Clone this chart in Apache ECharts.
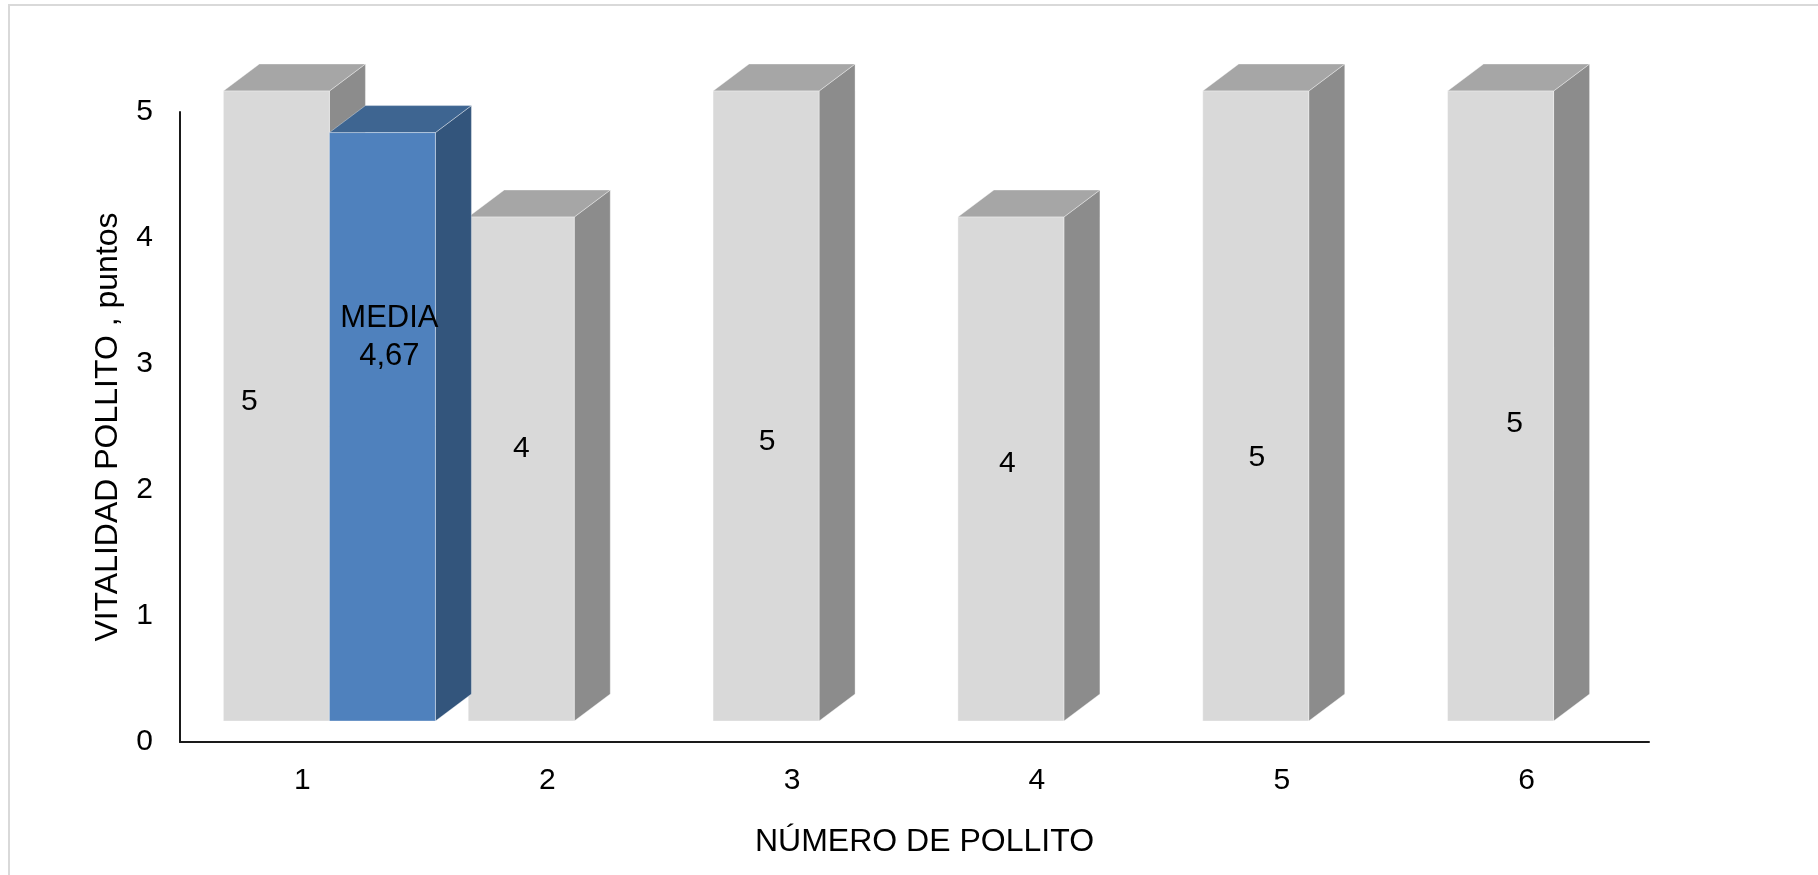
<!DOCTYPE html>
<html>
<head>
<meta charset="utf-8">
<title>Vitalidad del pollito</title>
<script src="https://cdn.jsdelivr.net/npm/echarts@6/dist/echarts.min.js"></script>
<style>
  html, body { margin: 0; padding: 0; background: #ffffff; }
  #chart { width: 1818px; height: 875px; }
</style>
</head>
<body>
<div id="chart"></div>
<script>
// Chick numbers on the x axis
const categories = ['1', '2', '3', '4', '5', '6'];
// Vitality score of each chick (points)
const vitalidad = [5, 4, 5, 4, 5, 5];
// Mean vitality, shown once next to the first chick
const media = [4.67, null, null, null, null, null];
const mediaName = 'MEDIA';
// Value axis range
const yMin = 0, yMax = 5, yStep = 1;

// Box drawing: face colours and the fake depth of each column
const FONT = "'Liberation Sans', Arial, sans-serif";
const DEPTH_X = 36, DEPTH_Y = 27, LIFT = 21;
const FACES = {
  gray: { front: '#d9d9d9', side: '#8c8c8c', top: '#a6a6a6' },
  blue: { front: '#4f81bd', side: '#33557c', top: '#3e6591' }
};
// Column slot within a category band (fractions of the band)
const SLOT_W = 0.433;
const SLOT_LEFT = { gray: -0.3227, blue: 0.1103 };
// Where each value label sits: [horizontal nudge px, height on the column in axis units]
const grayLabelSpot = [[-27, 2.535], [0, 2.158], [1, 2.213], [-3.5, 2.038], [1, 2.093], [14, 2.36]];
const blueLabelSpot = [[7, 3.045]];

function fmt(v) { return String(v).replace('.', ','); }

function boxRenderer(faces, slotLeft, spots, labelText, labelSize) {
  return function (params, api) {
    const cat = api.value(0);
    const val = api.value(1);
    const band = api.size([1, 0])[0];
    const c0 = api.coord([cat, 0]);
    const cTop = api.coord([cat, val]);
    const x0 = c0[0] + slotLeft * band;
    const w = SLOT_W * band;
    const yb = c0[1] - LIFT;
    const yt = cTop[1] - LIFT;
    const x1 = x0 + w;
    const edge = 'rgba(255,255,255,0.35)';
    const spot = spots[params.dataIndex] || [0, val / 2];
    const ly = api.coord([cat, spot[1]])[1] - LIFT;
    return {
      type: 'group',
      children: [
        { type: 'polygon', shape: { points: [[x1, yt], [x1 + DEPTH_X, yt - DEPTH_Y], [x1 + DEPTH_X, yb - DEPTH_Y], [x1, yb]] },
          style: { fill: faces.side, stroke: edge, lineWidth: 1 } },
        { type: 'polygon', shape: { points: [[x0, yt], [x0 + DEPTH_X, yt - DEPTH_Y], [x1 + DEPTH_X, yt - DEPTH_Y], [x1, yt]] },
          style: { fill: faces.top, stroke: edge, lineWidth: 1 } },
        { type: 'rect', shape: { x: x0, y: yt, width: w, height: yb - yt },
          style: { fill: faces.front, stroke: edge, lineWidth: 1 } },
        { type: 'text',
          style: { text: labelText(val), x: (x0 + x1) / 2 + spot[0], y: ly,
                   align: 'center', verticalAlign: 'middle', lineHeight: 38,
                   fontSize: labelSize, fontFamily: FONT, fill: '#000000' } }
      ]
    };
  };
}

const chart = echarts.init(document.getElementById('chart'), null, { renderer: 'canvas' });

chart.setOption({
  backgroundColor: '#ffffff',
  animation: false,
  graphic: [{
    type: 'rect', z: -10, silent: true,
    shape: { x: 9, y: 5, width: 1840, height: 900 },
    style: { fill: 'none', stroke: '#d9d9d9', lineWidth: 2 }
  }],
  grid: { left: 180, right: 169, top: 112, bottom: 133 },
  xAxis: {
    type: 'category',
    data: categories,
    name: 'NÚMERO DE POLLITO',
    nameLocation: 'middle',
    nameGap: 84,
    nameTextStyle: { fontSize: 32, fontFamily: FONT, color: '#000000', padding: [0, 0, 0, 20] },
    axisLine: { show: true, lineStyle: { color: '#1a1a1a', width: 2 } },
    axisTick: { show: false },
    axisLabel: { fontSize: 30, fontFamily: FONT, color: '#000000', margin: 24 },
    splitLine: { show: false }
  },
  yAxis: {
    type: 'value',
    min: yMin, max: yMax, interval: yStep,
    name: 'VITALIDAD POLLITO , puntos',
    nameLocation: 'middle',
    nameGap: 56,
    nameTextStyle: { fontSize: 32, fontFamily: FONT, color: '#000000' },
    axisLine: { show: true, lineStyle: { color: '#1a1a1a', width: 2 } },
    axisTick: { show: false },
    axisLabel: { fontSize: 30, fontFamily: FONT, color: '#000000', margin: 27 },
    splitLine: { show: false }
  },
  series: [
    {
      name: 'Vitalidad',
      type: 'custom',
      clip: false,
      renderItem: boxRenderer(FACES.gray, SLOT_LEFT.gray, grayLabelSpot, v => fmt(v), 30),
      encode: { x: 0, y: 1 },
      data: vitalidad.map((v, i) => [i, v])
    },
    {
      name: mediaName,
      type: 'custom',
      clip: false,
      renderItem: boxRenderer(FACES.blue, SLOT_LEFT.blue, blueLabelSpot, v => mediaName + '\n' + fmt(v), 31),
      encode: { x: 0, y: 1 },
      data: media.map((v, i) => [i, v]).filter(d => d[1] !== null)
    }
  ]
});
</script>
</body>
</html>
